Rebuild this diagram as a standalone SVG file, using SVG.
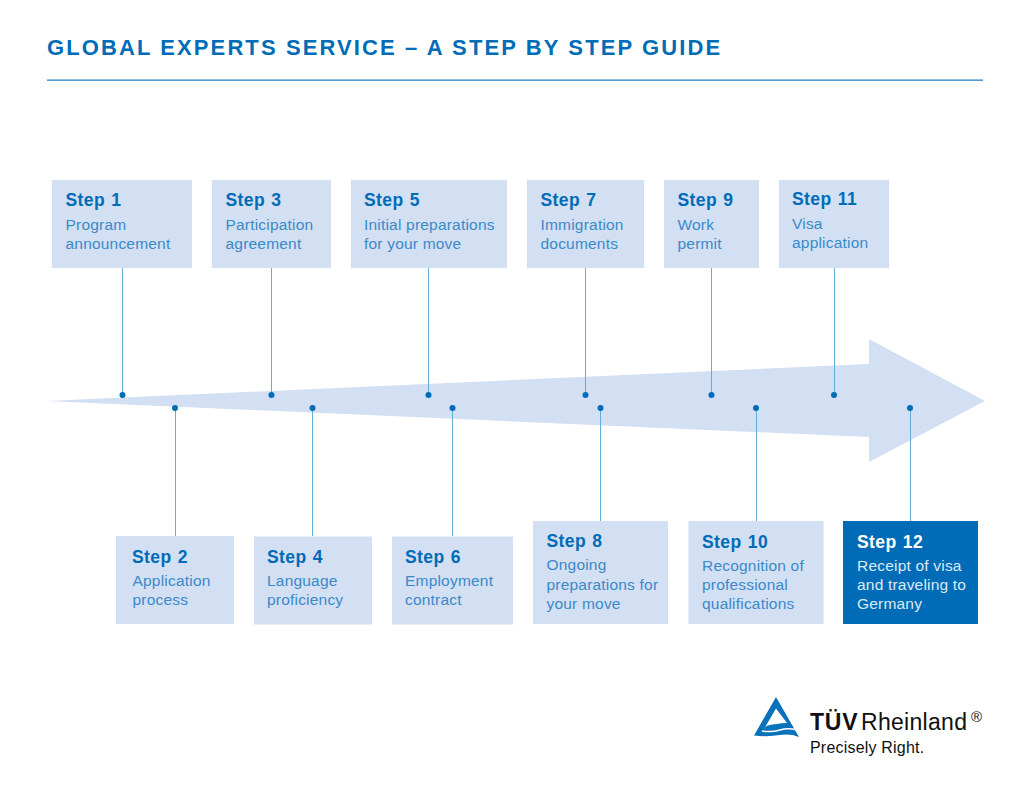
<svg xmlns="http://www.w3.org/2000/svg" width="1024" height="800" viewBox="0 0 1024 800">
<style>
text{font-family:"Liberation Sans",Arial,sans-serif}
.box{fill:#d3dff3}
.h{font-size:17.500px;font-weight:700;fill:#006cb7;letter-spacing:.4px;word-spacing:1px}
.t{font-size:15.500px;fill:#3a8ac8;letter-spacing:.2px}
.hw{font-size:17.500px;font-weight:700;fill:#fff;letter-spacing:.4px;word-spacing:1px}
.tw{font-size:15.500px;fill:#dce9f6;letter-spacing:.2px}
.ln{stroke:#62aedb;stroke-width:1;fill:none}
.dot{fill:#006cb7}
</style>
<rect width="1024" height="800" fill="#fff"/>
<text x="47" y="55" font-size="22" font-weight="700" fill="#006cb7" letter-spacing="2.1">GLOBAL EXPERTS SERVICE – A STEP BY STEP GUIDE</text>
<rect x="47" y="79.500" width="936" height="1.300" fill="#2a86c6"/>
<polygon id="arrow" points="47,401 869,364 869,339 985,401 869,462 869,437" fill="#d3dff3"/>
<g id="connectors">
<path class="ln" d="M122.500 268V395M271.500 268V395M428.500 268V395M585.500 268V395M711.500 268V395M834.500 268V395M175.500 408V536M312.500 408V536M452.500 408V536M600.500 408V521M756.500 408V521M910.500 408V521"/>
<circle class="dot" cx="122.500" cy="395" r="3"/><circle class="dot" cx="271.500" cy="395" r="3"/><circle class="dot" cx="428.500" cy="395" r="3"/><circle class="dot" cx="585.500" cy="395" r="3"/><circle class="dot" cx="711.500" cy="395" r="3"/><circle class="dot" cx="834" cy="395" r="3"/>
<circle class="dot" cx="175" cy="408" r="3"/><circle class="dot" cx="312.500" cy="408" r="3"/><circle class="dot" cx="452.500" cy="408" r="3"/><circle class="dot" cx="600.500" cy="408" r="3"/><circle class="dot" cx="756" cy="408" r="3"/><circle class="dot" cx="910" cy="408" r="3"/>
</g>
<g id="step1"><rect class="box" x="52" y="180" width="140" height="88"/><text class="h" x="65.500" y="206">Step 1</text><text class="t" x="65.500" y="230">Program</text><text class="t" x="65.500" y="249">announcement</text></g>
<g id="step3"><rect class="box" x="212" y="180" width="119" height="88"/><text class="h" x="225.500" y="206">Step 3</text><text class="t" x="225.500" y="230">Participation</text><text class="t" x="225.500" y="249">agreement</text></g>
<g id="step5"><rect class="box" x="351" y="180" width="156" height="88"/><text class="h" x="364" y="206">Step 5</text><text class="t" x="364" y="230">Initial preparations</text><text class="t" x="364" y="249">for your move</text></g>
<g id="step7"><rect class="box" x="527" y="180" width="117" height="88"/><text class="h" x="540.500" y="206">Step 7</text><text class="t" x="540.500" y="230">Immigration</text><text class="t" x="540.500" y="249">documents</text></g>
<g id="step9"><rect class="box" x="664" y="180" width="95" height="88"/><text class="h" x="677.500" y="206">Step 9</text><text class="t" x="677.500" y="230">Work</text><text class="t" x="677.500" y="249">permit</text></g>
<g id="step11"><rect class="box" x="779" y="180" width="110" height="88"/><text class="h" x="792" y="205">Step 11</text><text class="t" x="792" y="229">Visa</text><text class="t" x="792" y="248">application</text></g>
<g id="step2"><rect class="box" x="116" y="536" width="118" height="88"/><text class="h" x="132" y="563">Step 2</text><text class="t" x="132.500" y="586">Application</text><text class="t" x="132.500" y="605">process</text></g>
<g id="step4"><rect class="box" x="254" y="536.500" width="118" height="88"/><text class="h" x="267" y="563">Step 4</text><text class="t" x="267" y="586">Language</text><text class="t" x="267" y="605">proficiency</text></g>
<g id="step6"><rect class="box" x="392" y="536.500" width="121" height="88"/><text class="h" x="405" y="563">Step 6</text><text class="t" x="405" y="586">Employment</text><text class="t" x="405" y="605">contract</text></g>
<g id="step8"><rect class="box" x="533" y="521" width="135" height="103"/><text class="h" x="546.500" y="547">Step 8</text><text class="t" x="546.500" y="570">Ongoing</text><text class="t" x="546.500" y="589.500">preparations for</text><text class="t" x="546.500" y="609">your move</text></g>
<g id="step10"><rect class="box" x="688.500" y="521" width="135" height="103"/><text class="h" x="702" y="547.500">Step 10</text><text class="t" x="702" y="571">Recognition of</text><text class="t" x="702" y="590">professional</text><text class="t" x="702" y="609">qualifications</text></g>
<g id="step12"><rect x="843" y="521" width="135" height="103" fill="#006cb7"/><text class="hw" x="857" y="547.500">Step 12</text><text class="tw" x="857" y="571">Receipt of visa</text><text class="tw" x="857" y="590">and traveling to</text><text class="tw" x="857" y="609">Germany</text></g>
<g id="logo">
<path d="M776 697 L799 737 Q790 733.500 780 735 Q768 737 754 735.500 Z" fill="#0a72ba"/>
<path d="M776 708.500 L764 729 Q764 727 768 725.500 Q776 723.500 787 723 Z" fill="#fff"/>
<path d="M762 731 Q772 732.500 780 730 Q788 727.500 797 730" fill="none" stroke="#fff" stroke-width="1.500"/>
<text x="810" y="729.500" font-size="23" font-weight="700" fill="#111" letter-spacing=".8">TÜV</text>
<text x="861" y="729.500" font-size="23" fill="#111" letter-spacing=".3">Rheinland</text>
<text x="971" y="722" font-size="15" fill="#111">®</text>
<text x="810" y="753" font-size="16" fill="#111" letter-spacing=".2">Precisely Right.</text>
</g>
</svg>
